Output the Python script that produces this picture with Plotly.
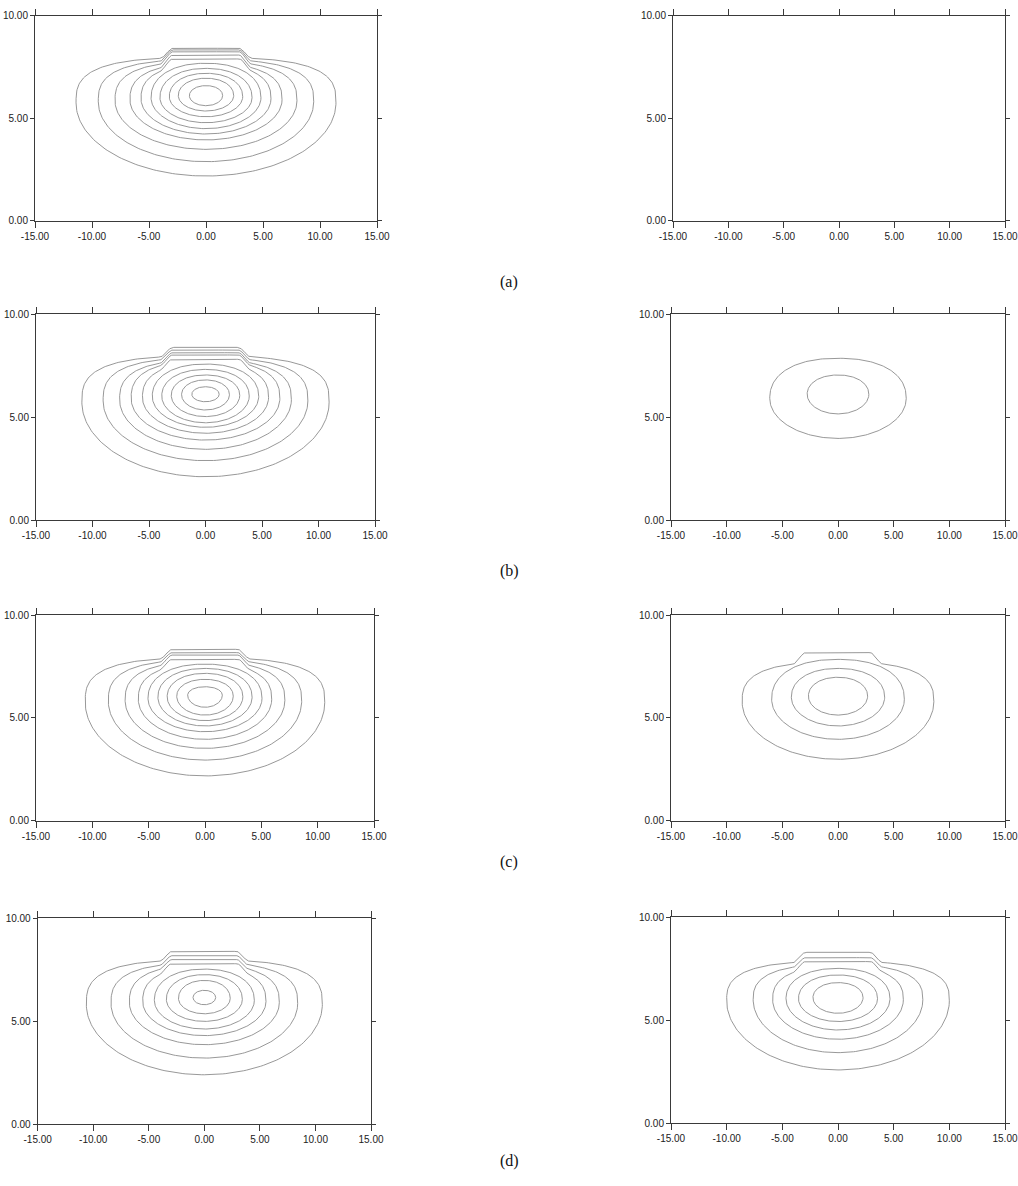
import numpy as np
import plotly.graph_objects as go

# ---------------- data ----------------
X_TICKS = [-15, -10, -5, 0, 5, 10, 15]
X_TICK_TEXT = ["-15.00", "-10.00", "-5.00", "0.00", "5.00", "10.00", "15.00"]
Y_TICKS = [0, 5, 10]
Y_TICK_TEXT = ["0.00", "5.00", "10.00"]
ROW_LABELS = ["(a)", "(b)", "(c)", "(d)"]

# each contour: half-width, bottom y, top y, y at max width, shoulder y (== top when no step)
A_LEFT_HALFWIDTH = [11.4, 9.45, 7.98, 6.67, 5.70, 4.82, 4.04, 3.22, 2.43, 1.46]
A_LEFT_BOTTOM = [2.18, 2.88, 3.48, 3.94, 4.23, 4.49, 4.78, 5.07, 5.35, 5.61]
A_LEFT_TOP = [8.41, 8.33, 8.24, 8.08, 7.89, 7.68, 7.43, 7.19, 6.95, 6.59]
A_LEFT_CENTER = [5.75, 5.80, 5.85, 5.90, 5.95, 6.00, 6.00, 6.05, 6.10, 6.10]
A_LEFT_SHOULDER = [7.95, 7.85, 7.75, 7.65, 7.60, 7.68, 7.43, 7.19, 6.95, 6.59]

A_RIGHT_HALFWIDTH = []
A_RIGHT_BOTTOM = []
A_RIGHT_TOP = []
A_RIGHT_CENTER = []
A_RIGHT_SHOULDER = []

B_LEFT_HALFWIDTH = [10.94, 9.06, 7.60, 6.58, 5.58, 4.71, 3.87, 3.03, 2.12, 1.21]
B_LEFT_BOTTOM = [2.10, 2.88, 3.43, 3.88, 4.21, 4.50, 4.72, 5.02, 5.34, 5.74]
B_LEFT_TOP = [8.38, 8.25, 8.12, 8.01, 7.80, 7.57, 7.31, 7.04, 6.80, 6.47]
B_LEFT_CENTER = [5.72, 5.78, 5.84, 5.90, 5.95, 6.00, 6.02, 6.05, 6.08, 6.10]
B_LEFT_SHOULDER = [7.95, 7.85, 7.75, 7.70, 7.60, 7.57, 7.31, 7.04, 6.80, 6.47]

B_RIGHT_HALFWIDTH = [6.13, 2.77]
B_RIGHT_BOTTOM = [3.96, 5.15]
B_RIGHT_TOP = [7.85, 7.04]
B_RIGHT_CENTER = [5.90, 6.10]
B_RIGHT_SHOULDER = [7.85, 7.04]

C_LEFT_HALFWIDTH = [10.63, 8.58, 7.09, 5.92, 5.06, 4.18, 3.36, 2.51, 1.54]
C_LEFT_BOTTOM = [2.17, 2.94, 3.51, 3.95, 4.32, 4.60, 4.86, 5.13, 5.51]
C_LEFT_TOP = [8.33, 8.17, 8.05, 7.84, 7.61, 7.40, 7.16, 6.87, 6.51]
C_LEFT_CENTER = [5.75, 5.80, 5.85, 5.90, 5.95, 6.00, 6.02, 6.05, 6.10]
C_LEFT_SHOULDER = [7.90, 7.80, 7.70, 7.60, 7.61, 7.40, 7.16, 6.87, 6.51]

C_RIGHT_HALFWIDTH = [8.61, 5.96, 4.19, 2.66]
C_RIGHT_BOTTOM = [2.98, 3.95, 4.60, 5.13]
C_RIGHT_TOP = [8.17, 7.84, 7.40, 6.97]
C_RIGHT_CENTER = [5.78, 5.90, 6.00, 6.05]
C_RIGHT_SHOULDER = [7.70, 7.84, 7.40, 6.97]

D_LEFT_HALFWIDTH = [10.62, 8.40, 6.75, 5.55, 4.50, 3.42, 2.33, 1.02]
D_LEFT_BOTTOM = [2.39, 3.20, 3.85, 4.29, 4.61, 4.98, 5.35, 5.79]
D_LEFT_TOP = [8.38, 8.17, 7.98, 7.78, 7.52, 7.25, 6.97, 6.49]
D_LEFT_CENTER = [5.80, 5.85, 5.90, 5.95, 6.00, 6.05, 6.10, 6.14]
D_LEFT_SHOULDER = [7.95, 7.80, 7.70, 7.60, 7.52, 7.25, 6.97, 6.49]

D_RIGHT_HALFWIDTH = [10.0, 7.62, 5.87, 4.67, 3.55, 2.25]
D_RIGHT_BOTTOM = [2.59, 3.43, 4.08, 4.53, 4.94, 5.34]
D_RIGHT_TOP = [8.30, 8.04, 7.85, 7.52, 7.20, 6.83]
D_RIGHT_CENTER = [5.95, 6.00, 6.00, 6.05, 6.05, 6.10]
D_RIGHT_SHOULDER = [7.85, 7.70, 7.60, 7.52, 7.20, 6.83]

PANELS = [
    (A_LEFT_HALFWIDTH, A_LEFT_BOTTOM, A_LEFT_TOP, A_LEFT_CENTER, A_LEFT_SHOULDER),
    (A_RIGHT_HALFWIDTH, A_RIGHT_BOTTOM, A_RIGHT_TOP, A_RIGHT_CENTER, A_RIGHT_SHOULDER),
    (B_LEFT_HALFWIDTH, B_LEFT_BOTTOM, B_LEFT_TOP, B_LEFT_CENTER, B_LEFT_SHOULDER),
    (B_RIGHT_HALFWIDTH, B_RIGHT_BOTTOM, B_RIGHT_TOP, B_RIGHT_CENTER, B_RIGHT_SHOULDER),
    (C_LEFT_HALFWIDTH, C_LEFT_BOTTOM, C_LEFT_TOP, C_LEFT_CENTER, C_LEFT_SHOULDER),
    (C_RIGHT_HALFWIDTH, C_RIGHT_BOTTOM, C_RIGHT_TOP, C_RIGHT_CENTER, C_RIGHT_SHOULDER),
    (D_LEFT_HALFWIDTH, D_LEFT_BOTTOM, D_LEFT_TOP, D_LEFT_CENTER, D_LEFT_SHOULDER),
    (D_RIGHT_HALFWIDTH, D_RIGHT_BOTTOM, D_RIGHT_TOP, D_RIGHT_CENTER, D_RIGHT_SHOULDER),
]

# ---------------- layout (page pixels) ----------------
W, H = 1018, 1186
# (x0, x1, ytop, ybottom) of each plot frame in page pixels
FRAMES = [
    (35, 377, 15.7, 220.7), (673, 1005, 15.7, 220.7),
    (36, 375, 314, 520), (671, 1005, 314, 520),
    (36, 374, 615, 820.5), (671, 1005, 615, 820.5),
    (37.7, 371, 918, 1124), (671, 1005, 917.3, 1123.3),
]
LABEL_Y = [271, 571, 873, 1172]
LABEL_X = 509

STEP_IN, STEP_OUT = 2.9, 4.0


def fx(px):
    return px / W


def fy(py):
    return 1 - py / H


def contour_curve(hw, bottom, top, center, shoulder, n=241):
    th = np.linspace(0, 2 * np.pi, n)
    cu, sv = np.cos(th), np.sin(th)
    xs, ys = [], []
    stepped = top > shoulder + 0.01
    p_up = 2.0 + hw / 11.0 if stepped else 2.0 + hw / 22.0
    for u, v in zip(cu, sv):
        if v >= 0:
            x = hw * np.sign(u) * abs(u) ** (2 / p_up)
            y = center + (shoulder - center) * abs(v) ** (2 / p_up)
            if stepped:
                ax = abs(x)
                if ax <= STEP_IN:
                    w = 1.0
                elif ax >= STEP_OUT:
                    w = 0.0
                else:
                    r = (STEP_OUT - ax) / (STEP_OUT - STEP_IN)
                    w = 3 * r * r - 2 * r ** 3
                y = y + w * (top - y)
        else:
            x = hw * u
            y = center - (center - bottom) * abs(v)
        xs.append(x)
        ys.append(y)
    return xs, ys


fig = go.Figure()
font_ticks = dict(family="Liberation Sans Narrow, Arial Narrow, Liberation Sans, Arial", size=10, color="#222")

for i, (panel, frame) in enumerate(zip(PANELS, FRAMES)):
    k = "" if i == 0 else str(i + 1)
    hws, bots, tops, cens, shs = panel
    # an empty trace makes sure every panel's axes are drawn
    fig.add_trace(go.Scatter(x=[], y=[], mode="lines", xaxis="x" + k, yaxis="y" + k,
                             showlegend=False, hoverinfo="skip"))
    for hw, b, t, c, s in zip(hws, bots, tops, cens, shs):
        xs, ys = contour_curve(hw, b, t, c, s)
        fig.add_trace(go.Scatter(x=xs, y=ys, mode="lines",
                                 line=dict(color="#8c8c8c", width=0.9),
                                 xaxis="x" + k, yaxis="y" + k,
                                 showlegend=False, hoverinfo="skip"))
    x0, x1, yt, yb = frame
    common = dict(showline=True, linecolor="#3a3a3a", linewidth=1, mirror="allticks",
                  ticks="outside", tickcolor="#3a3a3a", tickwidth=1,
                  showgrid=False, zeroline=False, tickfont=font_ticks,
                  automargin=False, fixedrange=True, ticklabeloverflow="allow")
    fig.layout["xaxis" + k] = dict(domain=[fx(x0), fx(x1)], range=[-15, 15],
                                   tickvals=X_TICKS, ticktext=X_TICK_TEXT, ticklen=6,
                                   anchor="y" + k, **common)
    fig.layout["yaxis" + k] = dict(domain=[fy(yb), fy(yt)], range=[0, 10],
                                   tickvals=Y_TICKS, ticktext=Y_TICK_TEXT, ticklen=4,
                                   anchor="x" + k, **common)

for lab, ly in zip(ROW_LABELS, LABEL_Y):
    fig.add_annotation(x=fx(LABEL_X), y=fy(ly), xref="paper", yref="paper",
                       text=lab, showarrow=False,
                       font=dict(family="Liberation Serif, Times New Roman, serif", size=16, color="#111"))

fig.update_layout(width=W, height=H, margin=dict(l=0, r=0, t=0, b=0),
                  paper_bgcolor="white", plot_bgcolor="white", showlegend=False)

# remove the browser's default page margin so the figure fills the window exactly
fig.write_html("out.html", config={"displayModeBar": False},
               post_script="document.body.style.margin='0';document.body.style.overflow='hidden';")
